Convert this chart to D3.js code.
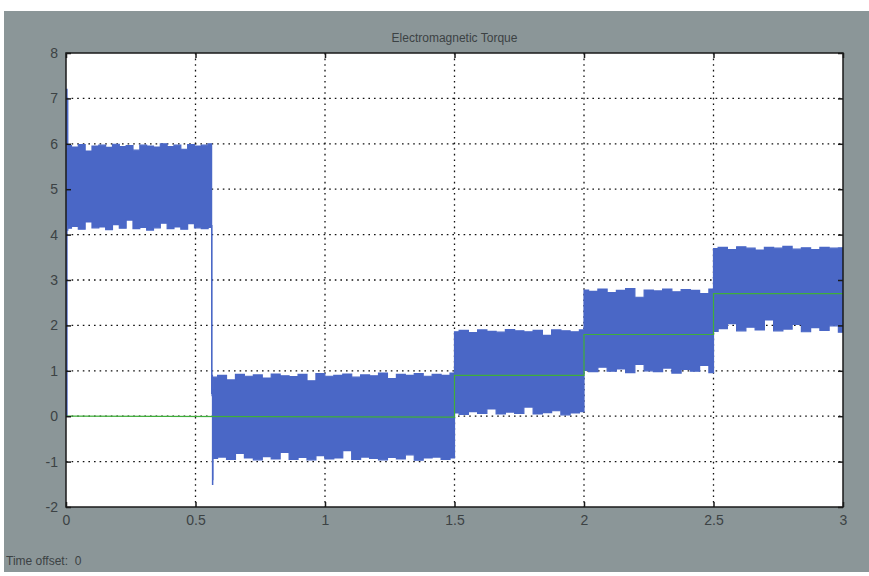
<!DOCTYPE html>
<html>
<head>
<meta charset="utf-8">
<script src="https://cdn.jsdelivr.net/npm/d3@7"></script>
<style>
  html, body { margin: 0; padding: 0; background: #ffffff; }
  svg { display: block; }
</style>
</head>
<body>
<svg id="chart" width="869" height="576"></svg>
<script>
// ---- data ----
const chartTitle = "Electromagnetic Torque";
const footerText = "Time offset:  0";
const xTicks = [0, 0.5, 1, 1.5, 2, 2.5, 3];
const xTickLabels = ["0", "0.5", "1", "1.5", "2", "2.5", "3"];
const yTicks = [-2, -1, 0, 1, 2, 3, 4, 5, 6, 7, 8];
const yTickLabels = ["-2", "-1", "0", "1", "2", "3", "4", "5", "6", "7", "8"];

// startup transient and load-step transient: [time, low, high]
const startTransient = [[0, 0, 0.3], [0.002, 0, 7.2], [0.006, 4.1, 7.0], [0.008, 4.2, 5.9]];
const stepTransient = [[0.562, 4.2, 5.95], [0.5625, 0.5, 4.2], [0.565, 0.45, 0.9], [0.566, -1.5, 0.85], [0.5675, -1.4, 0.6], [0.568, -0.9, 0.85]];

// noisy band envelope per segment (evenly spaced samples between start and end)
const segStart = [0.008, 0.568, 1.5, 2.0, 2.5];
const segEnd = [0.562, 1.5, 2.0, 2.5, 3.0];
const upper1 = [5.96,5.93,5.98,5.84,5.95,5.97,5.92,5.99,5.94,5.96,5.86,5.97,5.95,5.93,6.0,5.94,5.97,5.88,5.98,5.95,5.97,6.0];
const lower1 = [4.14,4.18,4.12,4.28,4.15,4.17,4.11,4.22,4.14,4.32,4.13,4.16,4.10,4.15,4.25,4.13,4.17,4.12,4.24,4.15,4.13,4.16];
const upper2 = [0.86,0.90,0.80,0.92,0.88,0.91,0.84,0.93,0.89,0.87,0.92,0.78,0.94,0.88,0.90,0.93,0.86,0.91,0.89,0.95,0.83,0.92,0.90,0.94,0.88,0.92,0.90,0.95];
const lower2 = [-0.93,-0.90,-0.95,-0.82,-0.92,-0.96,-0.89,-0.94,-0.80,-0.95,-0.91,-0.96,-0.87,-0.94,-0.92,-0.76,-0.95,-0.90,-0.93,-0.96,-0.91,-0.94,-0.85,-0.97,-0.92,-0.90,-0.95,-0.92];
const upper3 = [1.86,1.89,1.84,1.90,1.87,1.85,1.91,1.88,1.86,1.89,1.78,1.90,1.88,1.86,1.90];
const lower3 = [0.07,0.04,0.10,0.06,0.16,0.05,0.09,0.06,0.20,0.05,0.08,0.12,0.03,0.07,0.10];
const upper4 = [2.78,2.75,2.80,2.72,2.77,2.81,2.62,2.78,2.76,2.80,2.74,2.79,2.77,2.70,2.80];
const lower4 = [1.01,0.98,1.08,0.99,1.04,0.96,1.14,1.00,0.98,1.06,0.95,1.03,0.99,1.12,0.96];
const upper5 = [3.69,3.72,3.67,3.73,3.70,3.66,3.72,3.70,3.74,3.68,3.71,3.67,3.72,3.70,3.71];
const lower5 = [1.87,1.93,2.04,1.88,1.96,1.90,2.12,1.88,1.92,2.02,1.86,1.95,1.89,1.99,1.85];

// reference torque (green step line): [time, value]
const refTorque = [[0, 0], [1.5, -0.02], [1.5, 0.9], [2.0, 0.9], [2.0, 1.8], [2.5, 1.8], [2.5, 2.7], [3.0, 2.7]];

// ---- layout ----
const svg = d3.select("#chart");
const W = 869, H = 576;
const plot = { left: 66, right: 843, top: 53, bottom: 507 };

svg.append("rect").attr("x", 4).attr("y", 11).attr("width", W - 4).attr("height", 561)
  .attr("fill", "#8b9698");

const x = d3.scaleLinear().domain([0, 3]).range([plot.left, plot.right]);
const y = d3.scaleLinear().domain([-2, 8]).range([plot.bottom, plot.top]);

svg.append("rect").attr("x", plot.left).attr("y", plot.top)
  .attr("width", plot.right - plot.left).attr("height", plot.bottom - plot.top)
  .attr("fill", "#ffffff");

// grid
const grid = svg.append("g");
grid.selectAll("line.gx").data(xTicks.slice(1, -1)).join("line")
  .attr("x1", d => x(d)).attr("x2", d => x(d))
  .attr("y1", plot.top).attr("y2", plot.bottom)
  .attr("stroke", "#111").attr("stroke-width", 1.3).attr("stroke-dasharray", "1.6,4");
grid.selectAll("line.gy").data(yTicks.slice(1, -1)).join("line")
  .attr("y1", d => y(d)).attr("y2", d => y(d))
  .attr("x1", plot.left).attr("x2", plot.right)
  .attr("stroke", "#111").attr("stroke-width", 1.3).attr("stroke-dasharray", "1.6,4");

// band data
const uppers = [upper1, upper2, upper3, upper4, upper5];
const lowers = [lower1, lower2, lower3, lower4, lower5];
let band = [...startTransient];
uppers.forEach((up, s) => {
  const lo = lowers[s];
  const n = up.length;
  const ts = d3.scaleLinear().domain([0, n - 1]).range([segStart[s], segEnd[s]]);
  if (s === 1) band = band.concat(stepTransient);
  up.forEach((u, i) => band.push([ts(i), lo[i], u]));
});

const clipId = "plotclip";
svg.append("clipPath").attr("id", clipId).append("rect")
  .attr("x", plot.left).attr("y", plot.top)
  .attr("width", plot.right - plot.left).attr("height", plot.bottom - plot.top);

const area = d3.area().x(d => x(d[0])).y0(d => y(d[1])).y1(d => y(d[2])).curve(d3.curveStep);
svg.append("path").datum(band).attr("d", area)
  .attr("fill", "#4a67c6").attr("stroke", "#4a67c6").attr("stroke-width", 1.2)
  .attr("clip-path", `url(#${clipId})`);

// reference line
const line = d3.line().x(d => x(d[0])).y(d => y(d[1]));
svg.append("path").datum(refTorque).attr("d", line)
  .attr("fill", "none").attr("stroke", "#3fae3a").attr("stroke-width", 1.2)
  .attr("clip-path", `url(#${clipId})`);

// frame
svg.append("rect").attr("x", plot.left).attr("y", plot.top)
  .attr("width", plot.right - plot.left).attr("height", plot.bottom - plot.top)
  .attr("fill", "none").attr("stroke", "#1a1a1a").attr("stroke-width", 1.5);

// axes (ticks inward, labels via d3 axes)
const fmtX = d => xTickLabels[xTicks.indexOf(d)];
const fmtY = d => yTickLabels[yTicks.indexOf(d)];
const axisStyle = g => {
  g.select(".domain").remove();
  g.selectAll(".tick line").attr("stroke", "#1a1a1a").attr("stroke-width", 1.5);
  g.selectAll(".tick text").attr("fill", "#3c4244")
    .style("font-family", "Arial, 'Liberation Sans', sans-serif").style("font-size", "14px");
};
svg.append("g").attr("transform", `translate(0,${plot.bottom})`)
  .call(d3.axisBottom(x).tickValues(xTicks).tickFormat(fmtX).tickSizeInner(-5).tickPadding(8))
  .call(axisStyle);
svg.append("g").attr("transform", `translate(0,${plot.top})`)
  .call(d3.axisTop(x).tickValues(xTicks).tickFormat("").tickSizeInner(-5))
  .call(axisStyle);
svg.append("g").attr("transform", `translate(${plot.left},0)`)
  .call(d3.axisLeft(y).tickValues(yTicks).tickFormat(fmtY).tickSizeInner(-5).tickPadding(8))
  .call(axisStyle);
svg.append("g").attr("transform", `translate(${plot.right},0)`)
  .call(d3.axisRight(y).tickValues(yTicks).tickFormat("").tickSizeInner(-5))
  .call(axisStyle);

// title and footer
svg.append("text").attr("x", (plot.left + plot.right) / 2).attr("y", 42)
  .attr("text-anchor", "middle").attr("fill", "#3c4244")
  .style("font-family", "Arial, 'Liberation Sans', sans-serif").style("font-size", "12px")
  .text(chartTitle);
svg.append("text").attr("x", 6).attr("y", 565)
  .attr("fill", "#3c4244")
  .style("font-family", "Arial, 'Liberation Sans', sans-serif").style("font-size", "12px")
  .style("white-space", "pre")
  .text(footerText);
</script>
</body>
</html>
